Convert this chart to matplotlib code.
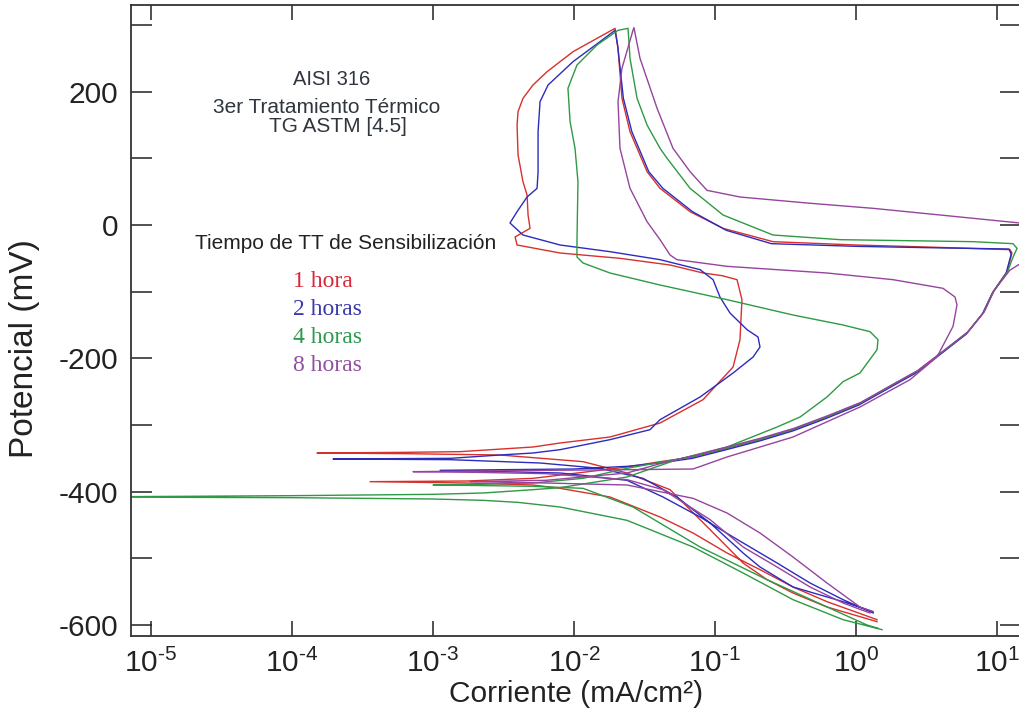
import numpy as np
import matplotlib
matplotlib.use('Agg')
import matplotlib.pyplot as plt
from matplotlib.ticker import FixedLocator, MultipleLocator, FuncFormatter, NullLocator

plt.rcParams['font.family'] = ['Liberation Sans', 'DejaVu Sans']
plt.rcParams['mathtext.fontset'] = 'custom'
plt.rcParams['mathtext.rm'] = 'Liberation Sans'
plt.rcParams['mathtext.it'] = 'Liberation Sans:italic'
plt.rcParams['mathtext.bf'] = 'Liberation Sans:bold'
plt.rcParams['mathtext.sf'] = 'Liberation Sans'
plt.rcParams['axes.unicode_minus'] = False

# ---- data: (log10 current [mA/cm2], potential [mV]) ----
red_pts = [(0.149, -595), (-0.206, -573), (-0.447, -552), (-0.631, -532), (-0.801, -507), (-1.035, -457),
           (-1.319, -397), (-1.624, -372), (-1.936, -355), (-2.525, -345), (-3.2, -343), (-3.823, -342),
           (-3.2, -341), (-2.809, -340), (-2.291, -333), (-2.099, -327), (-1.745, -318), (-1.39, -297),
           (-1.085, -262), (-0.872, -213), (-0.823, -172), (-0.809, -112), (-0.844, -82), (-0.95, -76),
           (-1.085, -72), (-1.319, -60), (-1.674, -50), (-2.099, -42), (-2.404, -30), (-2.418, -18),
           (-2.369, -12), (-2.312, -5), (-2.326, 15), (-2.333, 45), (-2.362, 65), (-2.397, 105),
           (-2.404, 150), (-2.397, 170), (-2.362, 190), (-2.291, 210), (-2.191, 230), (-2.007, 260),
           (-1.837, 280), (-1.709, 295),
           (-1.688, 265), (-1.66, 190), (-1.603, 140), (-1.482, 80), (-1.39, 55), (-1.177, 20),
           (-0.943, -5), (-0.589, -25), (0.0, -30), (0.5, -33), (1.092, -37),
           (1.106, -42), (1.071, -70), (0.972, -100), (0.901, -132), (0.787, -162), (0.617, -190),
           (0.433, -220), (0.262, -240), (0.028, -268), (-0.206, -288), (-0.447, -307), (-0.681, -322),
           (-0.915, -335), (-1.156, -348), (-1.39, -355), (-1.624, -363),
           (-2.291, -380), (-2.759, -384), (-3.447, -385), (-2.759, -387), (-2.291, -390), (-2.099, -395),
           (-1.745, -408), (-1.39, -438), (-1.156, -462), (-0.915, -492), (-0.681, -517), (-0.447, -543),
           (-0.206, -565), (0.149, -592)]

blue_pts = [(0.121, -580), (-0.092, -565), (-0.447, -543), (-0.681, -513), (-0.801, -492), (-1.035, -447),
            (-1.27, -408), (-1.511, -380), (-1.816, -365), (-2.241, -357), (-2.879, -352), (-3.709, -351),
            (-2.879, -350), (-2.525, -345), (-2.291, -342), (-2.099, -337), (-1.745, -322), (-1.461, -307),
            (-1.39, -292), (-1.106, -258), (-0.872, -222), (-0.73, -198), (-0.681, -183), (-0.695, -168),
            (-0.773, -157), (-0.894, -132), (-0.965, -108), (-1.014, -82), (-1.106, -67), (-1.39, -52),
            (-1.745, -40), (-2.099, -30), (-2.362, -15), (-2.454, 3), (-2.404, 20), (-2.333, 42),
            (-2.262, 55), (-2.255, 80), (-2.255, 140), (-2.241, 185), (-2.184, 210), (-2.007, 245),
            (-1.816, 275), (-1.709, 292),
            (-1.69, 268), (-1.65, 190), (-1.59, 140), (-1.47, 80), (-1.37, 55), (-1.16, 20), (-0.92, -8),
            (-0.6, -28), (0.0, -32), (0.5, -34), (1.085, -36),
            (1.1, -44), (1.065, -72), (0.965, -103), (0.895, -134), (0.78, -164), (0.61, -192),
            (0.425, -222), (0.255, -242), (0.02, -270), (-0.21, -290), (-0.45, -309), (-0.685, -324),
            (-0.92, -337), (-1.16, -350), (-1.39, -357), (-1.624, -362),
            (-2.0, -366), (-2.5, -367), (-2.95, -368), (-2.5, -370), (-2.099, -372), (-1.957, -375),
            (-1.624, -383), (-1.369, -408), (-1.106, -438), (-0.872, -468), (-0.56, -507), (-0.326, -537),
            (-0.092, -562), (0.121, -582)]

green_pts = [(0.184, -607), (-0.092, -592), (-0.447, -562), (-0.801, -522), (-1.156, -483), (-1.624, -443),
             (-2.099, -423), (-2.4, -416), (-2.645, -413), (-3.0, -411), (-4.0, -409), (-5.6, -408),
             (-4.0, -406), (-3.0, -404), (-2.645, -402), (-2.291, -397), (-2.099, -394), (-1.624, -378),
             (-1.27, -352), (-0.915, -333), (-0.56, -303), (-0.397, -288), (-0.206, -258), (-0.092, -235),
             (0.028, -222), (0.149, -187), (0.156, -172), (0.099, -160), (-0.092, -150), (-0.447, -135),
             (-0.915, -112), (-1.39, -90), (-1.745, -72), (-1.936, -57), (-1.979, -48), (-1.979, -22),
             (-1.972, 65), (-1.993, 115), (-2.028, 155), (-2.043, 205), (-1.979, 240), (-1.837, 270),
             (-1.688, 292), (-1.617, 295),
             (-1.603, 250), (-1.553, 190), (-1.482, 150), (-1.39, 115), (-1.34, 100), (-1.177, 55),
             (-0.943, 15), (-0.589, -15), (-0.113, -22), (0.83, -25), (1.113, -28), (1.142, -35),
             (1.11, -50), (1.075, -70), (0.975, -100), (0.905, -131), (0.79, -161), (0.62, -189),
             (0.435, -219), (0.265, -239), (0.03, -267), (-0.2, -287), (-0.44, -306), (-0.675, -321),
             (-0.91, -334), (-1.15, -347), (-1.39, -356), (-1.624, -365),
             (-1.936, -380), (-2.291, -387), (-2.7, -389), (-3.0, -390), (-2.6, -391), (-2.291, -392),
             (-1.936, -395), (-1.582, -423), (-1.106, -483), (-0.631, -532), (-0.163, -577), (0.078, -600),
             (0.156, -605)]

purple_pts = [(0.099, -582), (-0.092, -567), (-0.326, -543), (-0.56, -513), (-0.801, -483), (-1.035, -442),
              (-1.369, -397), (-1.624, -382), (-2.2, -373), (-2.7, -371), (-3.142, -370),
              (-2.7, -369), (-2.2, -368), (-1.6, -367), (-1.156, -366), (-0.915, -348), (-0.447, -318),
              (0.028, -273), (0.383, -232), (0.574, -198), (0.688, -152), (0.716, -120), (0.702, -108),
              (0.617, -95), (0.262, -82), (-0.206, -72), (-0.915, -62), (-1.27, -52), (-1.319, -45),
              (-1.39, -22), (-1.482, 5), (-1.603, 55), (-1.674, 115), (-1.688, 185), (-1.66, 235),
              (-1.582, 292), (-1.575, 296),
              (-1.532, 250), (-1.411, 175), (-1.298, 115), (-1.177, 80), (-1.057, 52), (-0.823, 42),
              (-0.348, 33), (0.121, 25), (0.596, 15), (1.163, 3), (1.35, -5), (1.3, -40),
              (1.09, -68), (0.98, -98), (0.91, -130), (0.795, -160), (0.625, -188), (0.44, -218),
              (0.27, -238), (0.035, -266), (-0.2, -286), (-0.44, -305), (-0.68, -320), (-0.915, -333),
              (-1.156, -346), (-1.39, -358), (-1.624, -372), (-2.2, -383), (-2.738, -385), (-2.2, -387),
              (-1.624, -390), (-1.39, -400), (-1.156, -410), (-0.915, -432), (-0.681, -462), (-0.447, -498),
              (-0.206, -537), (0.028, -573), (0.121, -580)]

series_names = ['1 hora', '2 horas', '4 horas', '8 horas']
series_data = [red_pts, blue_pts, green_pts, purple_pts]
series_colors = ['#d8302c', '#2c2cbc', '#2e9a44', '#96449e']
text_colors = ['#d8283a', '#3a3aaa', '#2e9a50', '#9050a0']

x_ticks = [1e-5, 1e-4, 1e-3, 1e-2, 1e-1, 1e0, 1e1]
y_major = [-600, -400, -200, 0, 200]

W, H = 1020, 727
fig = plt.figure(figsize=(W / 100, H / 100), dpi=100)
ax = fig.add_axes([131 / W, 1 - 636 / H, 890 / W, 631 / H])

for pts, col in zip(series_data, series_colors):
    logi, e = zip(*pts)
    ax.plot(10 ** np.array(logi), e, color=col, lw=1.0, solid_joinstyle='round')

ax.set_xscale('log')
ax.set_xlim(10 ** -5.142, 10 ** 1.170)
ax.set_ylim(-616.5, 330)


def dec_fmt(v, pos):
    p = int(round(np.log10(v)))
    if p < 0:
        return r'$\mathdefault{10^{\text{-}%d}}$' % (-p)
    return r'$\mathdefault{10^{%d}}$' % p


ax.xaxis.set_major_locator(FixedLocator(x_ticks))
ax.xaxis.set_minor_locator(NullLocator())
ax.xaxis.set_major_formatter(FuncFormatter(dec_fmt))
ax.yaxis.set_major_locator(FixedLocator(y_major))
ax.yaxis.set_minor_locator(MultipleLocator(100))

ax.tick_params(axis='x', which='both', direction='in', top=True, length=11, width=1.1,
               labelsize=21.5, pad=9, colors='#222222')
ax.tick_params(axis='y', which='both', direction='in', right=True, length=15, width=1.1,
               labelsize=21.5, pad=9, colors='#222222')
for sp in ax.spines.values():
    sp.set_linewidth(1.3)
    sp.set_color('#333333')

ax.set_xlabel('Corriente (mA/cm²)', fontsize=21.5, color='#222222', labelpad=2)
ax.set_ylabel('Potencial (mV)', fontsize=24, color='#222222')
ax.yaxis.set_label_coords(-0.1025, 0.456)

note_col = '#30363e'
fig.text(332 / W, 1 - 85 / H, 'AISI 316', ha='center', va='baseline', fontsize=14.5, color=note_col)
fig.text(327 / W, 1 - 113 / H, '3er Tratamiento Térmico', ha='center', va='baseline', fontsize=15, color=note_col)
fig.text(338 / W, 1 - 132 / H, 'TG ASTM [4.5]', ha='center', va='baseline', fontsize=15, color=note_col)
fig.text(346 / W, 1 - 249 / H, 'Tiempo de TT de Sensibilización', ha='center', va='baseline',
         fontsize=15, color='#222222')
for k, (name, tc) in enumerate(zip(series_names, text_colors)):
    fig.text(293 / W, 1 - (287 + 28 * k) / H, name, ha='left', va='baseline', fontsize=17,
             family=['Liberation Serif', 'DejaVu Serif'], color=tc)

fig.savefig('out.png', dpi=100)
